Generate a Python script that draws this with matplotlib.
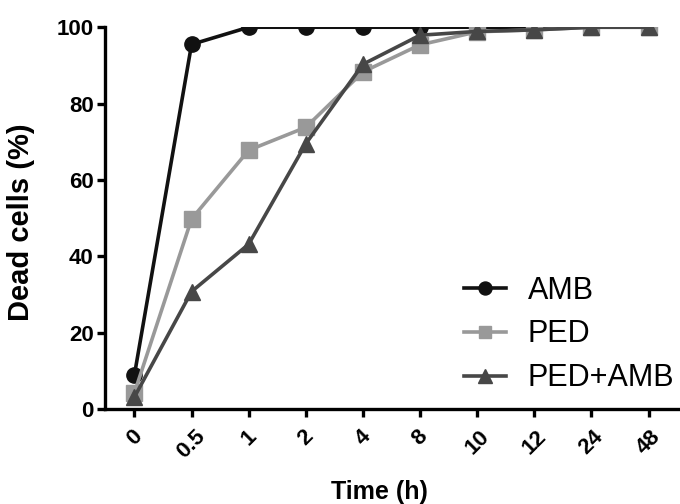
import matplotlib
matplotlib.use("Agg")
import matplotlib.pyplot as plt

plt.rcParams['font.family'] = ['Liberation Sans', 'DejaVu Sans']

times = ['0', '0.5', '1', '2', '4', '8', '10', '12', '24', '48']
amb = [9, 95.5, 100, 100, 100, 100, 100, 100, 100, 100]
ped = [4.3, 49.8, 67.8, 73.8, 88.3, 95.4, 98.8, 99.3, 100, 100]
ped_amb = [3.2, 30.8, 43.2, 69.5, 90.3, 97.9, 98.9, 99.3, 100, 100]

x = list(range(len(times)))

fig = plt.figure(figsize=(6.8, 5.04), dpi=100)
ax = fig.add_axes([0.154, 0.188, 0.846, 0.758])

ax.plot(x, amb, color='#111111', lw=2.6, marker='o', ms=11, label='AMB', zorder=3)
ax.plot(x, ped, color='#999999', lw=2.6, marker='s', ms=11, label='PED', zorder=4)
ax.plot(x, ped_amb, color='#474747', lw=2.6, marker='^', ms=12, label='PED+AMB', zorder=5)

ax.set_xlim(-0.52, 9.55)
ax.set_ylim(0, 100)
ax.set_yticks([0, 20, 40, 60, 80, 100])
ax.set_xticks(x)
ax.set_xticklabels(times, rotation=45, ha='center', va='top')

for s in ['top', 'right']:
    ax.spines[s].set_visible(False)
for s in ['left', 'bottom']:
    ax.spines[s].set_linewidth(2.4)
ax.tick_params(width=2.4, length=6, labelsize=16, direction='out')
ax.tick_params(axis='y', pad=2)
ax.tick_params(axis='x', pad=6)
for lab in ax.get_xticklabels() + ax.get_yticklabels():
    lab.set_fontweight('bold')

ax.set_ylabel('Dead cells (%)', fontsize=21, fontweight='bold')
ax.yaxis.set_label_coords(-0.122, 0.49)
ax.set_xlabel('Time (h)', fontsize=18, fontweight='bold')
ax.xaxis.set_label_coords(0.477, -0.185)

ax.legend(loc='lower right', frameon=False, fontsize=22, handlelength=1.4,
          bbox_to_anchor=(1.038, -0.03), labelspacing=0.45, handletextpad=0.7,
          markerscale=0.85)

fig.savefig('out.png', dpi=100)
